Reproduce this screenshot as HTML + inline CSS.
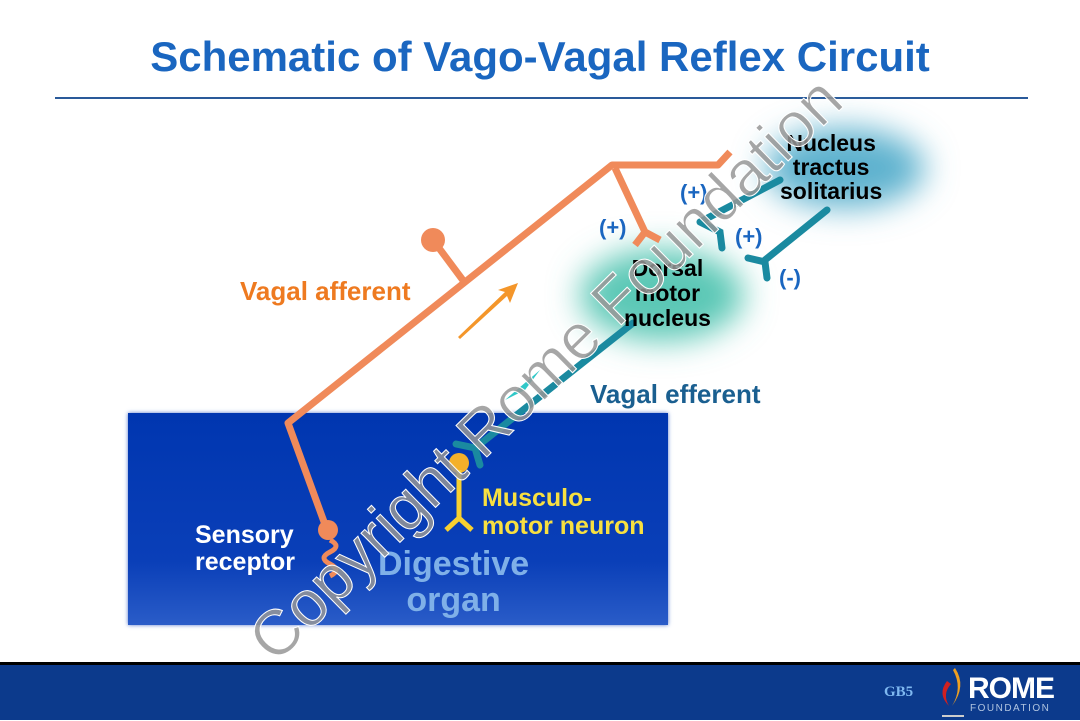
<!DOCTYPE html><html><head><style>
body{margin:0;width:1080px;height:720px;overflow:hidden;background:#fff;font-family:"Liberation Sans",sans-serif;position:relative}
.t{position:absolute;font-weight:bold;white-space:nowrap}
</style></head><body>
<div class="t" style="left:0;width:1080px;text-align:center;top:33px;font-size:42px;color:#1a66c0;transform:scaleX(1.0)">Schematic of Vago-Vagal Reflex Circuit</div>
<div style="position:absolute;left:55px;top:97px;width:973px;height:2px;background:#2a5a9a"></div>
<div style="position:absolute;left:128px;top:413px;width:540px;height:212px;background:linear-gradient(#0036b0,#0a3fb8 70%,#2a5cc8);box-shadow:0 0 4px #5577cc"></div>
<div style="position:absolute;left:0;top:662px;width:1080px;height:3px;background:#000"></div>
<div style="position:absolute;left:0;top:665px;width:1080px;height:55px;background:#0c3a8c"></div>
<svg width="1080" height="720" style="position:absolute;left:0;top:0">
<defs><filter id="b" x="-50%" y="-50%" width="200%" height="200%"><feGaussianBlur stdDeviation="16"/></filter></defs>
<ellipse cx="845" cy="168" rx="80" ry="40" fill="#5fb2cf" filter="url(#b)"/>
<ellipse cx="662" cy="295" rx="82" ry="46" fill="#5cc8b6" filter="url(#b)"/>
<g stroke="#f08a5a" stroke-width="7" fill="none" stroke-linejoin="round">
<path d="M327 530 L288 423 L612 165 L718 165 L730 152"/>
<path d="M615 168 L645 232 M645 232 L635 245 M645 232 L660 240"/>
<path d="M433 240 L465 283"/>
<path d="M330 540 q12 6 0 12 q-12 6 0 12 q12 6 0 12" stroke-width="5"/>
</g>
<circle cx="433" cy="240" r="12" fill="#f08a5a"/>
<circle cx="328" cy="530" r="10" fill="#f08a5a"/>
<path d="M458 337 L505 292 L498 290 L518 283 L510 303 L507 296 L460 339Z" fill="#f4962a"/>
<g stroke="#1a8aa0" stroke-width="7" fill="none" stroke-linecap="round">
<path d="M475 448 L633 323"/>
<path d="M456 444 L475 448 L480 465"/>
<path d="M700 222 L780 180 M700 222 L720 232 L722 248 M700 222 L720 232"/>
<path d="M827 210 L765 260 M748 258 L765 262 L767 278"/>
</g>
<path d="M505 400 L540 370 L525 390Z" fill="#30c8c8"/>
<circle cx="459" cy="463" r="10" fill="#f4b02a"/>
<path d="M459 470 L459 520 M446 530 L459 518 L472 530" stroke="#f8d030" stroke-width="5" fill="none"/>
</svg>
<div class="t" style="left:240px;top:276px;font-size:26px;color:#ee7a20">Vagal afferent</div>
<div class="t" style="left:590px;top:379px;font-size:26px;color:#1a5f90">Vagal efferent</div>
<div class="t" style="left:780px;top:131px;font-size:23px;line-height:24px;text-align:center;color:#000">Nucleus<br>tractus<br>solitarius</div>
<div class="t" style="left:624px;top:256px;font-size:23px;line-height:25px;text-align:center;color:#000">Dorsal<br>motor<br>nucleus</div>
<div class="t" style="left:599px;top:215px;font-size:22px;color:#1a66c0">(+)</div>
<div class="t" style="left:680px;top:180px;font-size:22px;color:#1a66c0">(+)</div>
<div class="t" style="left:735px;top:224px;font-size:22px;color:#1a66c0">(+)</div>
<div class="t" style="left:779px;top:265px;font-size:22px;color:#1a66c0">(-)</div>
<div class="t" style="left:482px;top:484px;font-size:25px;line-height:28px;color:#f8e040">Musculo-<br>motor neuron</div>
<div class="t" style="left:195px;top:522px;font-size:25px;line-height:27px;color:#fff">Sensory<br>receptor</div>
<div class="t" style="left:378px;top:546px;font-size:34px;line-height:36px;text-align:center;color:#7fb0e8">Digestive<br>organ</div>
<div class="t" style="left:145px;top:332px;width:800px;text-align:center;font-size:64px;font-weight:normal;color:rgba(150,150,150,.85);transform:rotate(-44.5deg);-webkit-text-stroke:1px #fff">Copyright Rome Foundation</div>
<div class="t" style="left:884px;top:684px;font-size:15px;font-family:'Liberation Serif',serif;color:#7fb8f0">GB5</div>
<svg width="40" height="55" style="position:absolute;left:937px;top:666px"><path d="M10 15 Q0 28 12 40 Q5 28 14 18Z" fill="#d02020"/><path d="M18 2 Q30 20 15 40 Q26 22 16 4Z" fill="#f0a020"/><rect x="5" y="49" width="22" height="2" fill="#ccc"/></svg>
<div class="t" style="left:968px;top:672px;font-size:30px;color:#fff;letter-spacing:-1px">ROME</div>
<div class="t" style="left:970px;top:703px;font-size:10px;color:#b0c4e0;letter-spacing:1.5px;font-weight:normal">FOUNDATION</div>
</body></html>
